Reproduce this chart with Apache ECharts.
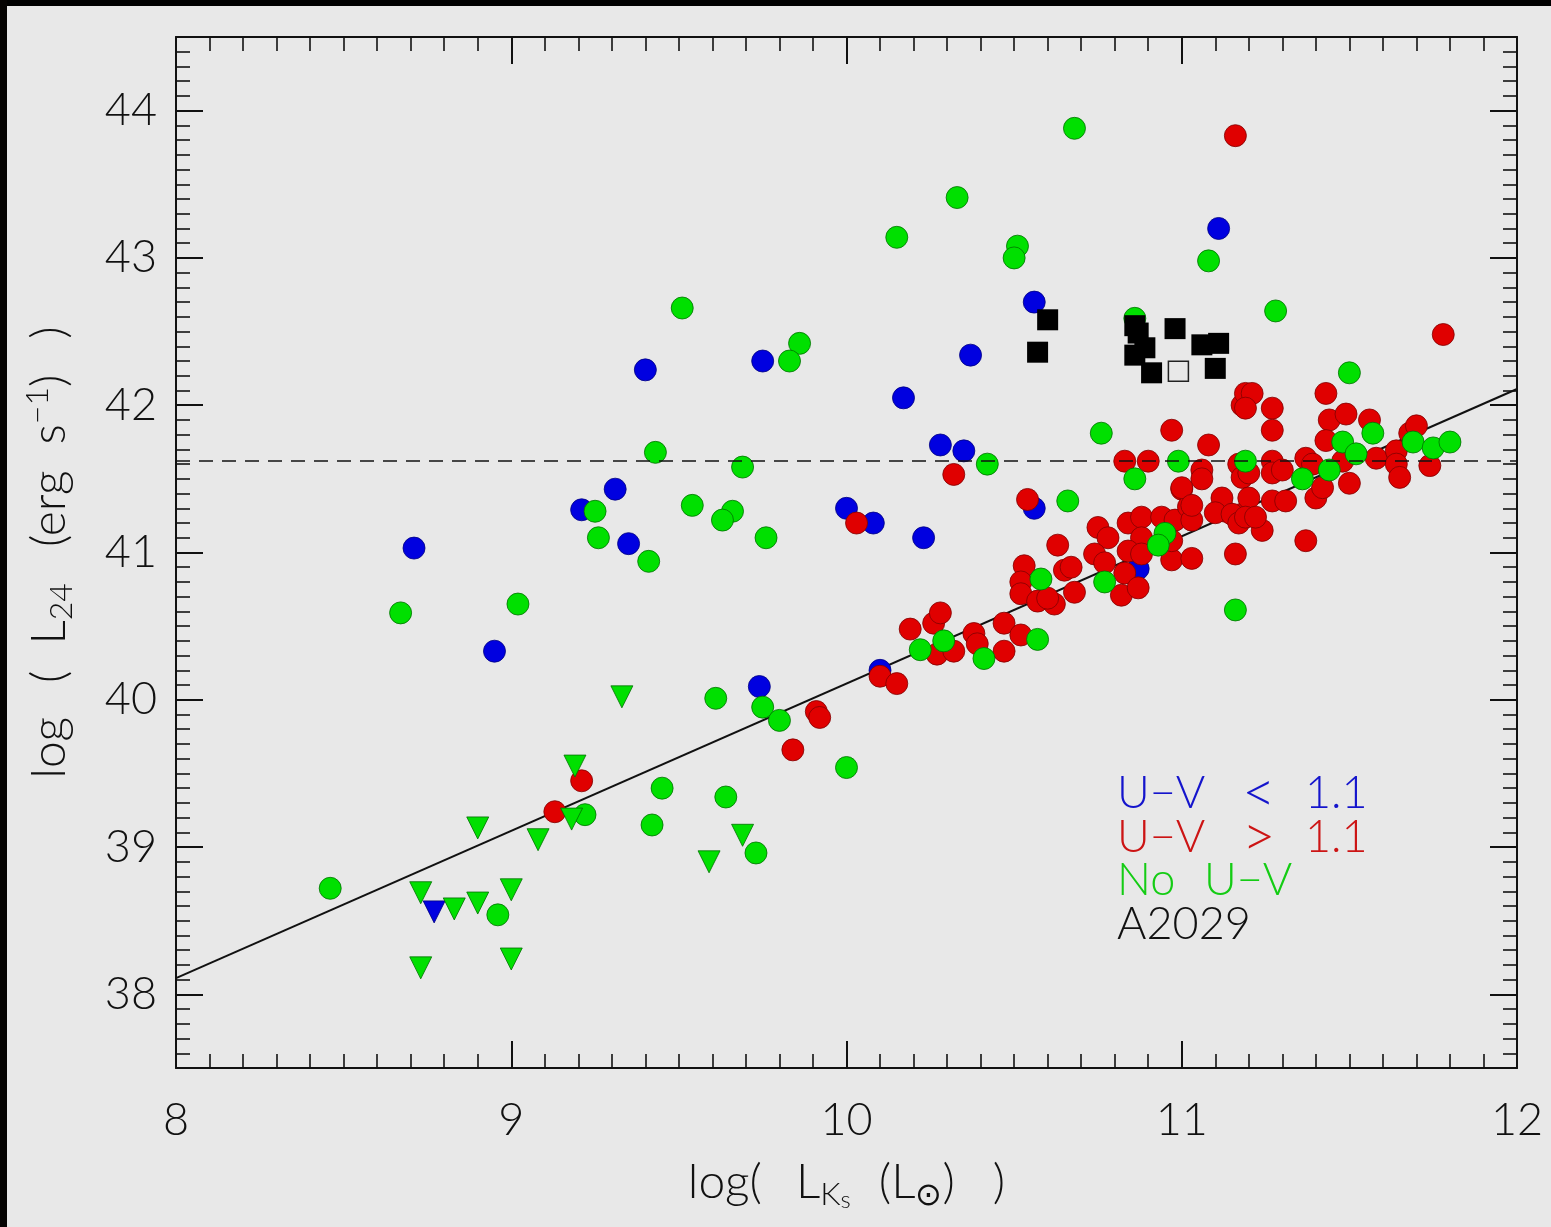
<!DOCTYPE html>
<html><head><meta charset="utf-8">
<script src="https://cdn.jsdelivr.net/npm/echarts@6/dist/echarts.min.js"></script>
<style>
html,body{margin:0;padding:0;background:#e8e8e8;width:1551px;height:1227px;overflow:hidden}
#c{position:absolute;left:7px;top:6px;width:1544px;height:1221px;background:#e8e8e8}
#bt{position:absolute;left:0;top:0;width:1551px;height:6px;background:#000}
#bl{position:absolute;left:0;top:0;width:7px;height:1227px;background:#050302}
</style>
</head><body><div id="bt"></div><div id="bl"></div><div id="c"></div>
<script>
// ---- data (log L_Ks, log L24) ----
const blueCircles = [[8.71,41.03],[8.95,40.33],[9.21,41.29],[9.31,41.43],[9.35,41.06],[9.40,42.24],[9.75,42.30],[9.74,40.09],[10.00,41.30],[10.08,41.20],[10.17,42.05],[10.23,41.10],[10.28,41.73],[10.35,41.69],[10.37,42.34],[10.56,42.70],[10.56,41.30],[10.10,40.20],[10.87,40.89],[11.11,43.20]];
const blueTriangles = [[8.77,38.56]];
const greenTriangles = [[8.90,39.13],[9.08,39.05],[8.73,38.69],[8.83,38.58],[8.90,38.62],[9.00,38.71],[8.73,38.18],[9.00,38.24],[9.18,39.19],[9.19,39.55],[9.33,40.02],[9.69,39.08],[9.59,38.90]];
const redCircles = [[11.16,43.83],[11.78,42.48],[9.21,39.45],[9.13,39.24],[9.84,39.66],[9.91,39.92],[9.92,39.88],[10.10,40.16],[10.15,40.11],[10.19,40.48],[10.26,40.52],[10.28,40.59],[10.27,40.31],[10.03,41.20],[10.32,41.53],[10.54,41.36],[10.97,41.83],[10.83,41.62],[10.90,41.62],[11.08,41.73],[11.06,41.56],[11.06,41.50],[11.00,41.43],[10.63,41.05],[10.75,41.17],[10.78,41.10],[10.74,40.99],[10.77,40.93],[10.84,41.20],[10.88,41.24],[10.88,41.10],[10.84,41.01],[10.88,40.99],[10.94,41.24],[10.98,41.22],[11.02,41.31],[11.03,41.22],[10.97,40.95],[11.03,40.96],[10.97,41.08],[11.00,41.44],[10.83,40.86],[10.82,40.71],[10.87,40.76],[10.53,40.91],[10.52,40.80],[10.52,40.72],[10.57,40.67],[10.62,40.65],[10.65,40.88],[10.67,40.90],[10.68,40.73],[10.60,40.69],[10.32,40.33],[10.38,40.45],[10.39,40.38],[10.47,40.52],[10.52,40.44],[10.47,40.33],[11.13,41.28],[11.16,40.99],[11.18,41.26],[11.18,42.00],[11.19,42.08],[11.17,41.60],[11.18,41.51],[11.21,42.08],[11.19,41.98],[11.27,41.98],[11.27,41.83],[11.03,41.32],[11.12,41.37],[11.10,41.27],[11.15,41.26],[11.17,41.20],[11.20,41.37],[11.19,41.24],[11.24,41.15],[11.22,41.24],[11.20,41.54],[11.27,41.62],[11.27,41.54],[11.30,41.56],[11.27,41.35],[11.31,41.35],[11.37,41.64],[11.39,41.60],[11.40,41.37],[11.42,41.44],[11.37,41.08],[11.43,42.08],[11.44,41.90],[11.49,41.94],[11.43,41.76],[11.48,41.62],[11.50,41.47],[11.56,41.90],[11.58,41.64],[11.64,41.69],[11.64,41.60],[11.65,41.51],[11.68,41.81],[11.70,41.86],[11.74,41.59]];
const greenCircles = [[8.46,38.72],[8.67,40.59],[9.02,40.65],[8.96,38.54],[9.22,39.22],[9.45,39.40],[9.42,39.15],[9.64,39.34],[9.73,38.96],[9.61,40.01],[9.75,39.95],[9.80,39.86],[10.00,39.54],[10.22,40.34],[10.29,40.40],[9.51,42.66],[9.86,42.42],[9.83,42.30],[9.43,41.68],[9.69,41.58],[9.25,41.28],[9.26,41.10],[9.41,40.94],[9.54,41.32],[9.66,41.28],[9.63,41.22],[9.76,41.10],[10.68,43.88],[10.33,43.41],[10.15,43.14],[10.51,43.08],[10.50,43.00],[11.08,42.98],[11.28,42.64],[10.86,42.59],[10.42,41.60],[10.76,41.81],[10.66,41.35],[10.99,41.62],[10.86,41.50],[10.58,40.82],[10.77,40.80],[10.95,41.13],[10.93,41.05],[11.16,40.61],[10.41,40.28],[10.57,40.41],[11.19,41.62],[11.50,42.22],[11.36,41.50],[11.44,41.56],[11.48,41.75],[11.52,41.67],[11.57,41.81],[11.69,41.75],[11.75,41.71],[11.80,41.75]];
const a2029Filled = [[10.60,42.58],[10.57,42.36],[10.86,42.54],[10.87,42.49],[10.89,42.39],[10.86,42.34],[10.91,42.22],[10.98,42.52],[11.06,42.41],[11.11,42.42],[11.10,42.25]];
const a2029Open = [[10.99,42.23]];
const fitLine = [[8,38.11],[12,42.11]];
const threshold = 41.62;
const xTickLabels = ['8','9','10','11','12'];
const yTickLabels = ['38','39','40','41','42','43','44'];

const FONT = 'Lato';
const FW = 300;
const BLUE = '#0000e0', RED = '#e00000', GREEN = '#00e000';
const INK = '#111';

const chart = echarts.init(document.getElementById('c'), null, {renderer:'canvas'});

function xAxisCfg(pos, labels){
  return {
    type:'value', position:pos, min:8, max:12, interval:1,
    axisLine:{show:true, onZero:false, lineStyle:{color:INK, width:2}},
    axisTick:{show:true, inside:true, length:27, lineStyle:{color:INK, width:2}},
    minorTick:{show:true, splitNumber:10, length:14, lineStyle:{color:INK, width:1.6}},
    splitLine:{show:false}, minorSplitLine:{show:false},
    axisLabel:{show:labels, margin:30, fontSize:45, fontFamily:FONT, fontWeight:FW, color:INK,
      formatter:v=>{const i=xTickLabels.indexOf(String(v)); return i>=0?xTickLabels[i]:'';}},
  };
}
function yAxisCfg(pos, labels){
  return {
    type:'value', position:pos, min:37.5, max:44.5, splitNumber:7,
    axisLine:{show:true, onZero:false, lineStyle:{color:INK, width:2}},
    axisTick:{show:true, inside:true, length:27, lineStyle:{color:INK, width:2}},
    minorTick:{show:true, splitNumber:10, length:14, lineStyle:{color:INK, width:1.6}},
    splitLine:{show:false}, minorSplitLine:{show:false},
    axisLabel:{show:labels, margin:19, fontSize:45, fontFamily:FONT, fontWeight:FW, color:INK,
      showMinLabel:false, showMaxLabel:false,
      formatter:v=>{const i=yTickLabels.indexOf(String(v)); return i>=0?yTickLabels[i]:'';}},
  };
}
const base = {fontSize:48, fontFamily:FONT, fontWeight:FW, color:INK};
const nameRich = {
  t: base,
  sub:{fontSize:32, fontFamily:FONT, fontWeight:FW, color:INK, padding:[24,0,0,0]},
  sub2:{fontSize:24, fontFamily:FONT, fontWeight:FW, color:INK, padding:[34,0,0,0]},
  sup:{fontSize:32, fontFamily:FONT, fontWeight:FW, color:INK, padding:[0,0,24,0]},
  g1:{width:34, fontSize:10}, g2:{width:28, fontSize:10}, g3:{width:38, fontSize:10},
  h1:{width:34, fontSize:10}, h2:{width:26, fontSize:10}, h3:{width:36, fontSize:10}, h4:{width:26, fontSize:10}
};

const xa0 = xAxisCfg('bottom', true);
xa0.name = '{t|log(}{g1| }{t|L}{sub|K}{sub2|s}{g2| }{t|(L}{sub|\u2299}{t|)}{g3| }{t|)}';
xa0.nameLocation = 'middle';
xa0.nameGap = 86;
xa0.nameTextStyle = Object.assign({}, base, {rich:nameRich});
const ya0 = yAxisCfg('left', true);
ya0.name = '{t|log}{h1| }{t|(}{h2| }{t|L}{sub|24}{h3| }{t|(erg}{h4| }{t|s}{sup|\u22121}{t|)}{h3| }{t|)}';
ya0.nameLocation = 'middle';
ya0.nameGap = 98;
ya0.nameRotate = 90;
ya0.nameTextStyle = Object.assign({}, base, {rich:nameRich});

const circ = (data, color, border, z) => ({type:'scatter', data, symbol:'circle', symbolSize:22, z,
  itemStyle:{color, borderColor:border, borderWidth:0.8, opacity:1}, silent:true});
const tri = (data, color, border, z) => ({type:'scatter', data, symbol:'triangle', symbolRotate:180, symbolSize:22, z,
  itemStyle:{color, borderColor:border, borderWidth:0.8, opacity:1}, silent:true});

const lgBase = {fontSize:45, fontFamily:FONT, fontWeight:FW};
function legendText(parts, color, top){
  const rich = {};
  let txt = '';
  parts.forEach((p,i)=>{
    rich['p'+i] = Object.assign({}, lgBase, {fill:color, color}, p[1]?{width:p[1]}:{}, p[2]?{fontSize:58}:{});
    txt += '{p'+i+'|'+p[0]+'}';
  });
  return {type:'text', left:1110, top, silent:true, style:{text:txt, rich, fill:color}};
}

chart.setOption({
  animation:false,
  backgroundColor:'#e8e8e8',
  grid:{left:169, right:34, top:31, bottom:159, containLabel:false},
  xAxis:[xa0, xAxisCfg('top', false)],
  yAxis:[ya0, yAxisCfg('right', false)],
  series:[
    {type:'line', data:fitLine, showSymbol:false, z:1, lineStyle:{color:INK, width:2}, silent:true,
     markLine:{silent:true, symbol:['none','none'], label:{show:false},
       lineStyle:{color:INK, width:1.6, type:[14,9]}, data:[{yAxis:threshold}]}},
    circ(blueCircles, BLUE, '#000080', 2),
    tri(blueTriangles, BLUE, '#000080', 2),
    circ(redCircles, RED, '#800000', 3),
    circ(greenCircles, GREEN, '#007000', 4),
    tri(greenTriangles, GREEN, '#007000', 4),
    {type:'scatter', data:a2029Filled, symbol:'rect', symbolSize:21, z:5,
     itemStyle:{color:'#000', borderColor:'#000', borderWidth:0, opacity:1}, silent:true},
    {type:'scatter', data:a2029Open, symbol:'rect', symbolSize:20, z:5,
     itemStyle:{color:'rgba(0,0,0,0)', borderColor:'#222', borderWidth:1.5, opacity:1}, silent:true}
  ],
  graphic:[
    legendText([['U\u2212V',125],['<',63,true],['1.1']], '#1414cc', 758),
    legendText([['U\u2212V',125],['>',63,true],['1.1']], '#cc1414', 802),
    legendText([['No',87],['U\u2212V']], '#14cc14', 852),
    legendText([['A2029']], INK, 896)
  ]
});
</script></body></html>
